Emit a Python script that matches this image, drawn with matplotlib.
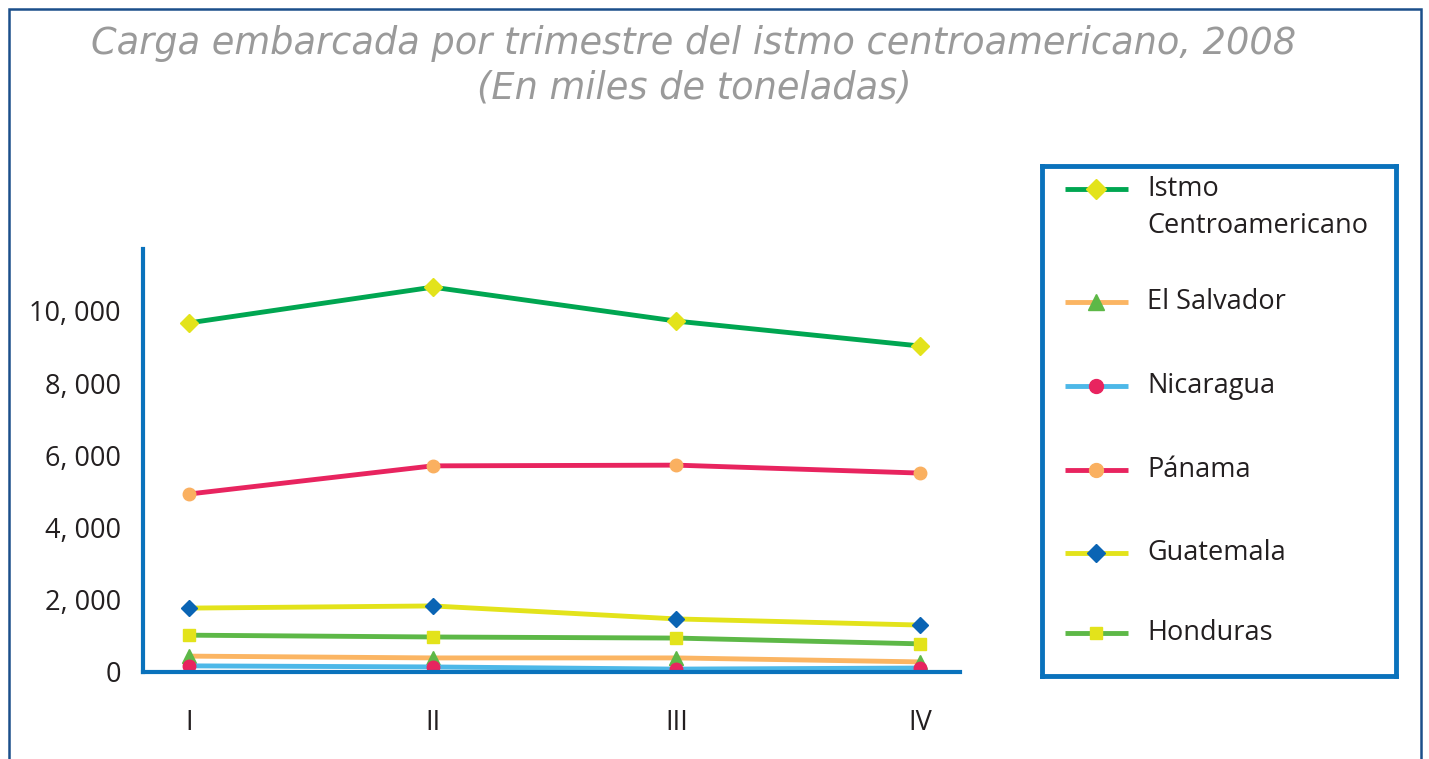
"""
Carga embarcada por trimestre del istmo centroamericano, 2008
"""
import matplotlib
matplotlib.use('Agg')  # Use non-interactive backend
import matplotlib.pyplot as plt
from matplotlib.patches import Rectangle
from matplotlib.ticker import FuncFormatter

# Data (miles de toneladas)
trimestres = ['I', 'II', 'III', 'IV']
istmo = [9670, 10660, 9720, 9030]
el_salvador = [440, 390, 390, 280]
nicaragua = [170, 140, 80, 110]
panama = [4930, 5710, 5730, 5510]
guatemala = [1770, 1830, 1470, 1300]
honduras = [1020, 970, 940, 780]

# (label, values, line colour, marker, marker colour, marker size)
series = [
    ('Istmo\nCentroamericano', istmo, '#00A651', 'D', '#E3E31B', 9),
    ('El Salvador', el_salvador, '#FBB563', '^', '#5DB847', 10),
    ('Nicaragua', nicaragua, '#4DB8E8', 'o', '#E8245F', 9),
    ('Pánama', panama, '#E8245F', 'o', '#FAB060', 9),
    ('Guatemala', guatemala, '#E3E31B', 'D', '#0A64B4', 8),
    ('Honduras', honduras, '#5DB847', 's', '#E3E31B', 8),
]

BLUE = '#0A72BC'
W, H = 1429, 759

plt.rcParams['font.family'] = ['Open Sans', 'DejaVu Sans']

fig = plt.figure(figsize=(W / 100, H / 100), dpi=100)

# Outer frame (bottom edge is cut off in the original)
fig.add_artist(Rectangle((9 / W, -0.05), (1421 - 9) / W, 1.05 - 9 / H,
                         transform=fig.transFigure, fill=False,
                         edgecolor='#1B4F8A', lw=1.8))

# Title
fig.text(694 / W, 1 - 43 / H,
         'Carga embarcada por trimestre del istmo centroamericano, 2008',
         ha='center', va='center', fontsize=26.5, style='italic',
         color='#9A9A9A', family='DejaVu Sans')
fig.text(694 / W, 1 - 88 / H, '(En miles de toneladas)',
         ha='center', va='center', fontsize=26.5, style='italic',
         color='#9A9A9A', family='DejaVu Sans')

# Main axes
ax = fig.add_axes([143 / W, (H - 672) / H, 817 / W, 423 / H])
x = list(range(len(trimestres)))
for label, vals, lc, mk, mc, ms in series:
    ax.plot(x, vals, color=lc, lw=3.5, marker=mk, markersize=ms,
            markerfacecolor=mc, markeredgecolor=mc, solid_capstyle='butt')

ax.set_xlim(-0.189, 3.164)
ax.set_ylim(0, 11717)
ax.set_yticks([0, 2000, 4000, 6000, 8000, 10000])
ax.yaxis.set_major_formatter(
    FuncFormatter(lambda v, p: '0' if v == 0 else f'{v:,.0f}'.replace(',', ', ')))
ax.set_xticks(x)
ax.set_xticklabels(trimestres)
ax.tick_params(axis='y', length=0, pad=16, labelsize=19.5, labelcolor='#231F20')
ax.tick_params(axis='x', length=0, pad=27, labelsize=19.5, labelcolor='#231F20')
for side in ['top', 'right']:
    ax.spines[side].set_visible(False)
for side in ['left', 'bottom']:
    ax.spines[side].set_color(BLUE)
    ax.spines[side].set_linewidth(3)

# Legend box, drawn in pixel units
lax = fig.add_axes([1042 / W, (H - 676) / H, 354 / W, 510 / H])
lax.set_xlim(1042, 1396)
lax.set_ylim(676, 166)
lax.set_xticks([])
lax.set_yticks([])
for sp in lax.spines.values():
    sp.set_color(BLUE)
    sp.set_linewidth(3.5)

key_y = [189, 302, 386, 470, 553, 633]
for (label, vals, lc, mk, mc, ms), ky in zip(series, key_y):
    lax.plot([1065, 1128], [ky, ky], color=lc, lw=3.5, solid_capstyle='butt')
    lax.plot([1096], [ky], marker=mk, markersize=ms + 1,
             markerfacecolor=mc, markeredgecolor=mc)
    lax.text(1147, ky - 14, label, ha='left', va='top', fontsize=19.5,
             color='#231F20', linespacing=1.45)

fig.savefig('out.png', dpi=100)
